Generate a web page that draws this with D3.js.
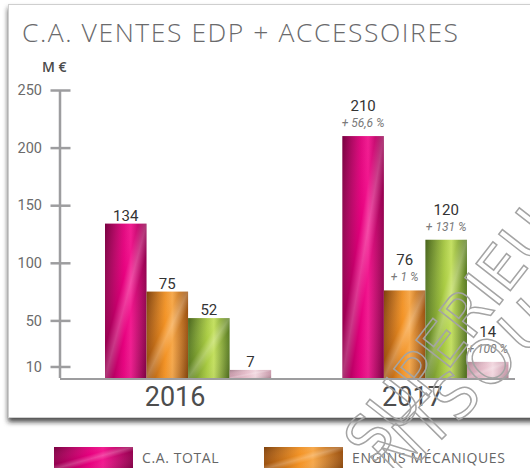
<!DOCTYPE html>
<html>
<head>
<meta charset="utf-8">
<script src="https://cdn.jsdelivr.net/npm/d3@7"></script>
<style>
  html, body { margin: 0; padding: 0; background: #fff; }
  svg { display: block; }
</style>
</head>
<body>
<svg id="chart" width="530" height="468"></svg>
<script>
// ---- data ----
const years = ["2016", "2017"];
const seriesNames = ["C.A. TOTAL", "ENGINS MÉCANIQUES", "ACCESSOIRES", "AUTRES"];
const caTotal = [134, 210];
const enginsMecaniques = [75, 76];
const accessoires = [52, 120];
const autres = [7, 14];
const evolution2017 = ["+ 56,6 %", "+ 1 %", "+ 131 %", "+ 100 %"];
const yTicks = [10, 50, 100, 150, 200, 250];
const legendShown = ["C.A. TOTAL", "ENGINS MÉCANIQUES"];

const seriesValues = [caTotal, enginsMecaniques, accessoires, autres];

// ---- styles ----
const palette = [
  { dark: "#93004e", mid: "#e6007e", light: "#f2188f" },
  { dark: "#9a500f", mid: "#f39325", light: "#f7a84a" },
  { dark: "#587a22", mid: "#a9cb43", light: "#c4e060" },
  { dark: "#c99aab", mid: "#e9c3cf", light: "#f2d8e0" }
];

const svg = d3.select("#chart");
const defs = svg.append("defs");

palette.forEach((c, i) => {
  const g = defs.append("linearGradient")
    .attr("id", "bar" + i)
    .attr("x1", "0%").attr("y1", "0%").attr("x2", "100%").attr("y2", "0%");
  g.append("stop").attr("offset", "0%").attr("stop-color", c.dark);
  g.append("stop").attr("offset", "45%").attr("stop-color", c.mid);
  g.append("stop").attr("offset", "62%").attr("stop-color", c.light);
  g.append("stop").attr("offset", "100%").attr("stop-color", c.dark);
});
// diagonal sheen laid over each bar
const sheen = defs.append("linearGradient")
  .attr("id", "sheen")
  .attr("x1", "0%").attr("y1", "0%").attr("x2", "100%").attr("y2", "100%");
sheen.append("stop").attr("offset", "0%").attr("stop-color", "#000").attr("stop-opacity", 0.18);
sheen.append("stop").attr("offset", "40%").attr("stop-color", "#fff").attr("stop-opacity", 0);
sheen.append("stop").attr("offset", "50%").attr("stop-color", "#fff").attr("stop-opacity", 0.22);
sheen.append("stop").attr("offset", "60%").attr("stop-color", "#fff").attr("stop-opacity", 0);
sheen.append("stop").attr("offset", "100%").attr("stop-color", "#000").attr("stop-opacity", 0.15);

const shadow = defs.append("filter").attr("id", "panelShadow")
  .attr("x", "-5%").attr("y", "-5%").attr("width", "110%").attr("height", "115%");
shadow.append("feDropShadow")
  .attr("dx", 0).attr("dy", 4).attr("stdDeviation", 2.5)
  .attr("flood-color", "#222").attr("flood-opacity", 0.8);

// ---- panel ----
svg.append("rect")
  .attr("x", 8.5).attr("y", 4.5)
  .attr("width", 620).attr("height", 413)
  .attr("fill", "#fff")
  .attr("stroke", "#cfcfcf")
  .attr("filter", "url(#panelShadow)");

svg.append("text")
  .attr("x", 22).attr("y", 42)
  .attr("font-family", "'Open Sans', sans-serif")
  .attr("font-weight", 300)
  .attr("font-size", 26.5)
  .attr("letter-spacing", 1.55)
  .attr("fill", "#6a6a6c")
  .text("C.A. VENTES EDP + ACCESSOIRES");

svg.append("text")
  .attr("x", 42).attr("y", 72)
  .attr("font-family", "'Open Sans', sans-serif")
  .attr("font-weight", 600)
  .attr("font-size", 14)
  .attr("fill", "#4a4a4a")
  .text("M €");

// ---- scales ----
const axisX = 60;
const y = d3.scaleLinear().domain([0, 250]).range([378, 90]);
const x0 = d3.scaleBand().domain(years).range([105, 508.5]).paddingInner(0.3).paddingOuter(0);
const x1 = d3.scaleBand().domain(d3.range(seriesNames.length)).range([0, x0.bandwidth()]);

// ---- axis ----
const axisG = svg.append("g")
  .attr("transform", `translate(${axisX},0)`)
  .call(d3.axisLeft(y).tickValues(yTicks).tickSizeInner(10).tickSizeOuter(0).tickPadding(8));
axisG.select(".domain")
  .attr("stroke", "#9d9d9f").attr("stroke-width", 2.5)
  .attr("d", `M0,${y(250)}V${y(0)}`);
axisG.selectAll(".tick line")
  .attr("x1", -9.5).attr("x2", 10.5)
  .attr("stroke", "#9d9d9f").attr("stroke-width", 2.5);
axisG.selectAll(".tick text")
  .attr("x", -18)
  .attr("font-family", "Roboto, sans-serif")
  .attr("font-size", 14.5)
  .attr("fill", "#6b6b6b");

// baseline
svg.append("line")
  .attr("x1", axisX).attr("x2", 515)
  .attr("y1", y(0) + 1).attr("y2", y(0) + 1)
  .attr("stroke", "#9d9d9f").attr("stroke-width", 2.2);

// ---- bars ----
const barData = [];
years.forEach((yr, yi) => {
  seriesValues.forEach((vals, si) => {
    barData.push({ year: yr, yi, si, value: vals[yi] });
  });
});

const bars = svg.append("g").selectAll("g")
  .data(barData)
  .join("g")
  .attr("transform", d => `translate(${x0(d.year) + x1(d.si)},0)`);

bars.append("rect")
  .attr("y", d => y(d.value))
  .attr("width", x1.bandwidth())
  .attr("height", d => y(0) - y(d.value))
  .attr("fill", d => `url(#bar${d.si})`);
bars.append("rect")
  .attr("y", d => y(d.value))
  .attr("width", x1.bandwidth())
  .attr("height", d => y(0) - y(d.value))
  .attr("fill", "url(#sheen)");

// value labels
bars.append("text")
  .attr("x", x1.bandwidth() / 2)
  .attr("y", d => y(d.value) - (d.yi === 1 ? 25 : 3))
  .attr("text-anchor", "middle")
  .attr("font-family", "Roboto, sans-serif")
  .attr("font-size", 15)
  .attr("fill", "#333")
  .text(d => d.value);

// evolution labels for the second year
bars.filter(d => d.yi === 1).append("text")
  .attr("x", x1.bandwidth() / 2)
  .attr("y", d => y(d.value) - 9)
  .attr("text-anchor", "middle")
  .attr("font-family", "Roboto, sans-serif")
  .attr("font-style", "italic")
  .attr("font-size", 12)
  .attr("fill", "#7a7a7a")
  .text(d => evolution2017[d.si]);

// year labels
svg.append("g").selectAll("text")
  .data(years)
  .join("text")
  .attr("x", d => x0(d) + x0.bandwidth() / 2 - 13)
  .attr("y", 406)
  .attr("text-anchor", "middle")
  .attr("font-family", "Roboto, sans-serif")
  .attr("font-size", 27)
  .attr("fill", "#4d4d4d")
  .text(d => d);

// ---- legend ----
const legendX = [54, 264];
const legend = svg.append("g").selectAll("g")
  .data(legendShown)
  .join("g")
  .attr("transform", (d, i) => `translate(${legendX[i]},447)`);
legend.append("rect")
  .attr("width", 79).attr("height", 22)
  .attr("fill", d => `url(#bar${seriesNames.indexOf(d)})`);
legend.append("rect")
  .attr("width", 79).attr("height", 22)
  .attr("fill", "url(#sheen)");
legend.append("text")
  .attr("x", 88).attr("y", 16)
  .attr("font-family", "'Open Sans', sans-serif")
  .attr("font-size", 14)
  .attr("letter-spacing", 0.6)
  .attr("fill", "#666")
  .text(d => d);

// ---- watermark ----
const wm = svg.append("g")
  .attr("fill", "none")
  .attr("stroke", "#a4a4a4")
  .attr("stroke-width", 1.5)
  .attr("font-family", "'DejaVu Sans', sans-serif")
  .attr("font-size", 60)
  .attr("pointer-events", "none");
wm.append("text")
  .attr("transform", "translate(374,465) rotate(-52)")
  .text("SUPERIEU");
wm.append("text")
  .attr("transform", "translate(457,424) rotate(-45)")
  .attr("text-anchor", "end")
  .text("NT ");
wm.append("text")
  .attr("transform", "translate(457,424) rotate(-45)")
  .attr("letter-spacing", 5)
  .text("SOU");
</script>
</body>
</html>
